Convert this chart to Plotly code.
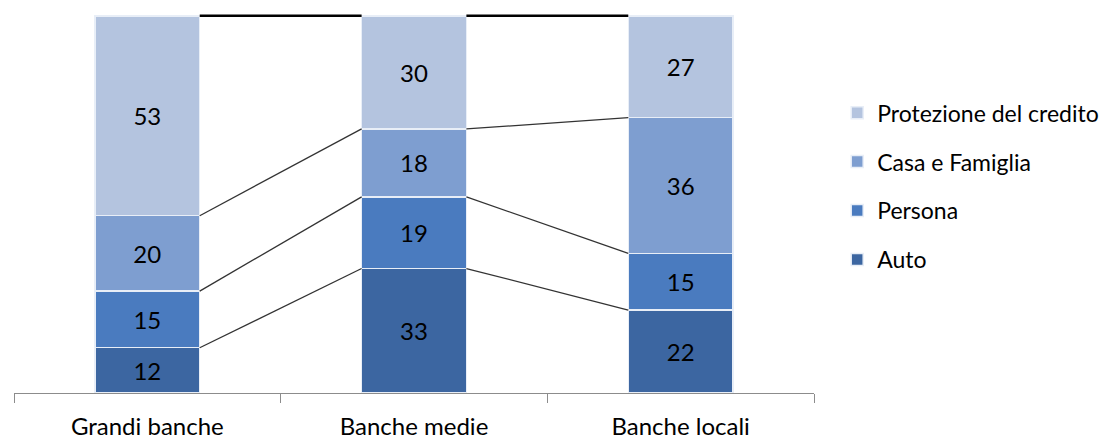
import plotly.graph_objects as go

categories = ["Grandi banche", "Banche medie", "Banche locali"]
series_names = ["Auto", "Persona", "Casa e Famiglia", "Protezione del credito"]
auto = [12, 33, 22]
persona = [15, 19, 15]
casa = [20, 18, 36]
protezione = [53, 30, 27]
series_values = [auto, persona, casa, protezione]
colors = ["#3C66A1", "#4A7BBF", "#7E9ED0", "#B4C4DF"]

FONT = "Lato"
FS = 24
LEG_FS = 23
bar_width = 0.393

fig = go.Figure()
n = len(series_names)
for k, (name, vals, col) in enumerate(zip(series_names, series_values, colors)):
    fig.add_trace(go.Bar(
        x=categories, y=vals, name=name,
        marker=dict(color=col, line=dict(color="#E8EEF7", width=1.5)),
        width=bar_width,
        text=[str(v) for v in vals], textposition="inside",
        insidetextanchor="middle", textangle=0,
        textfont=dict(family=FONT, size=FS, color="black"),
        legendgroup=name, legendrank=n - k,
    ))

# series lines connecting segment tops between adjacent bars
shapes = []
cum = [0, 0, 0]
for k, vals in enumerate(series_values):
    cum = [c + v for c, v in zip(cum, vals)]
    top = k == len(series_values) - 1
    for i in range(len(categories) - 1):
        shapes.append(dict(
            type="line", xref="x", yref="y",
            x0=i + bar_width / 2, y0=cum[i],
            x1=i + 1 - bar_width / 2, y1=cum[i + 1],
            line=dict(color="black" if top else "#333333", width=2.5 if top else 1.3),
            layer="above",
        ))

fig.update_layout(
    width=1120, height=439,
    margin=dict(l=14, r=306, t=12, b=46),
    barmode="stack",
    paper_bgcolor="white", plot_bgcolor="white",
    font=dict(family=FONT, size=FS, color="black"),
    shapes=shapes,
    showlegend=True,
    legend=dict(
        x=1.029, xanchor="left", y=0.792, yanchor="top",
        traceorder="grouped", tracegroupgap=16, borderwidth=0,
        font=dict(family=FONT, size=LEG_FS, color="black"),
        itemclick=False,
    ),
    xaxis=dict(
        type="category", range=[-0.5, 2.5],
        showline=True, linecolor="#8C8C8C", linewidth=1,
        ticks="outside", tickson="boundaries", ticklen=9, tickcolor="#8C8C8C",
        showgrid=False, zeroline=False, automargin=False,
        ticklabelstandoff=12,
        tickfont=dict(family=FONT, size=FS, color="black"),
    ),
    yaxis=dict(
        range=[0, 101], visible=False, showgrid=False, zeroline=False,
    ),
)

fig.write_html("out.html")
